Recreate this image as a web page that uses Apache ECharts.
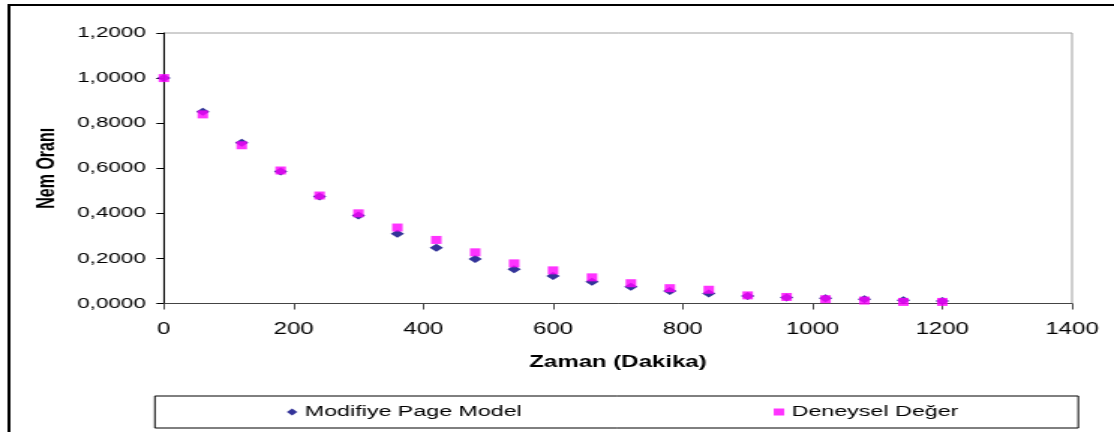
<!DOCTYPE html>
<html>
<head>
<meta charset="utf-8">
<script src="https://cdn.jsdelivr.net/npm/echarts@6/dist/echarts.min.js"></script>
<style>
  html, body { margin: 0; padding: 0; background: #fff; overflow: hidden; }
  /* the chart is laid out narrow and widened horizontally to fill the page */
  #chart { width: 743px; height: 432px; transform: scaleX(1.4993); transform-origin: 0 0; }
</style>
</head>
<body>
<div id="chart"></div>
<script>
// time in minutes
const zaman = [0, 60, 120, 180, 240, 300, 360, 420, 480, 540, 600, 660, 720, 780, 840, 900, 960, 1020, 1080, 1140, 1200];
// moisture ratio, modified Page model
const modifiyePage = [1.0, 0.851, 0.713, 0.586, 0.475, 0.390, 0.309, 0.247, 0.197, 0.152, 0.122, 0.097, 0.074, 0.056, 0.044, 0.033, 0.027, 0.023, 0.019, 0.014, 0.011];
// moisture ratio, experimental
const deneysel = [1.0, 0.839, 0.702, 0.590, 0.479, 0.400, 0.337, 0.282, 0.227, 0.178, 0.147, 0.116, 0.090, 0.068, 0.061, 0.036, 0.029, 0.019, 0.013, 0.007, 0.007];

const seriesNames = ['Modifiye Page Model', 'Deneysel Değer'];
const font = 'Liberation Sans, Arial, sans-serif';

const pairs = (ys) => zaman.map((x, i) => [x, ys[i]]);

const chart = echarts.init(document.getElementById('chart'), null, { renderer: 'canvas' });
chart.setOption({
  backgroundColor: '#fff',
  animation: false,
  textStyle: { fontFamily: font },
  graphic: [{
    type: 'rect',
    shape: { x: 6, y: 5, width: 2000, height: 2000 },
    style: { fill: 'none', stroke: '#000', lineWidth: 2 },
    silent: true
  }],
  grid: {
    left: 109.3, right: 28, top: 33, bottom: 128.5,
    show: true, borderColor: '#a0a0a0', borderWidth: 1, backgroundColor: 'transparent'
  },
  legend: {
    data: [
      { name: seriesNames[0], icon: 'diamond' },
      { name: seriesNames[1], icon: 'rect' }
    ],
    left: 103.3, top: 396,
    padding: [8, 80, 8, 88],
    itemGap: 168,
    itemWidth: 7, itemHeight: 7,
    borderColor: '#000', borderWidth: 1,
    textStyle: { fontFamily: font, fontSize: 15.5, color: '#000' }
  },
  xAxis: {
    type: 'value', min: 0, max: 1400, interval: 200,
    name: 'Zaman (Dakika)', nameLocation: 'middle', nameGap: 51,
    nameTextStyle: { fontFamily: font, fontSize: 16, fontWeight: 'bold', color: '#000' },
    axisLine: { show: true, onZero: false, lineStyle: { color: '#444', width: 1 } },
    axisTick: { show: true, inside: false, length: 6, lineStyle: { color: '#444' } },
    axisLabel: {
      fontFamily: font, fontSize: 16, color: '#000', margin: 18,
      formatter: (v) => String(v)
    },
    splitLine: { show: false }
  },
  yAxis: {
    type: 'value', min: 0, max: 1.2, interval: 0.2,
    name: 'Nem Oranı', nameLocation: 'middle', nameGap: 70,
    nameTextStyle: { fontFamily: font, fontSize: 16, fontWeight: 'bold', color: '#000' },
    axisLine: { show: true, onZero: false, lineStyle: { color: '#000', width: 1 } },
    axisTick: { show: true, inside: false, length: 5, lineStyle: { color: '#000' } },
    axisLabel: {
      fontFamily: font, fontSize: 15, color: '#000', margin: 12,
      formatter: (v) => v.toFixed(4).replace('.', ',')
    },
    splitLine: { show: false }
  },
  series: [
    {
      name: seriesNames[0], type: 'scatter', data: pairs(modifiyePage),
      symbol: 'diamond', symbolSize: [9, 8],
      itemStyle: { color: '#000080' }, z: 2
    },
    {
      name: seriesNames[1], type: 'scatter', data: pairs(deneysel),
      symbol: 'rect', symbolSize: [7, 8],
      itemStyle: { color: '#ff00ff' }, z: 3
    }
  ]
});
</script>
</body>
</html>
